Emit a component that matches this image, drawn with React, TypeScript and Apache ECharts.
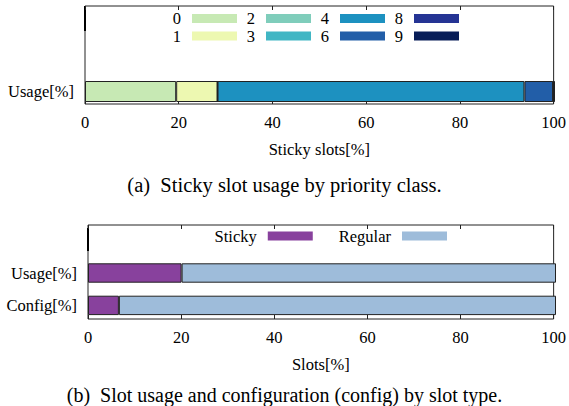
import React, { useEffect, useRef } from "react";
import * as echarts from "echarts";

// Chart (a): sticky slot usage by priority class
const priorityClasses = ["0", "1", "2", "3", "4", "6", "8", "9"];
const priorityUsage = [19.4, 8.8, 0, 0, 65.3, 6.1, 0, 0.4];
const priorityColors = ["#c7e9b4", "#edf8b1", "#7fcdbb", "#41b6c4", "#1d91c0", "#225ea8", "#253494", "#081d58"];
const categoriesA = ["Usage[%]"];

// Chart (b): slot usage and configuration by slot type
const slotTypes = ["Sticky", "Regular"];
const categoriesB = ["Config[%]", "Usage[%]"];
const stickyValues = [6.6, 20];
const regularValues = [93.4, 80];
const slotColors = ["#88419d", "#9ebcda"];

const xTicks = [0, 20, 40, 60, 80, 100];

const FONT = "'Liberation Serif', 'Times New Roman', serif";
const FS = 16.5;

export default function App() {
  const ref = useRef<HTMLDivElement>(null);
  useEffect(() => {
    if (!ref.current) return;
    const chart = echarts.init(ref.current, null, { renderer: "svg" });

    const frameGrid = (left: number, top: number, width: number, height: number) => ({
      left, top, width, height, show: true, borderColor: "#222", borderWidth: 1, backgroundColor: "transparent",
    });
    const dataGrid = (left: number, top: number, width: number, height: number) => ({
      left, top, width, height, show: false,
    });

    const tickAxis = (gridIndex: number, position: string, name: string, showLabels: boolean) => ({
      type: "value",
      gridIndex,
      position,
      min: xTicks[0],
      max: xTicks[xTicks.length - 1],
      interval: xTicks[1] - xTicks[0],
      axisLine: { show: false },
      axisTick: { show: true, inside: true, length: 4, lineStyle: { color: "#222", width: 1 } },
      splitLine: { show: false },
      axisLabel: { show: showLabels, fontFamily: FONT, fontSize: FS, color: "#000", margin: 10 },
      name,
      nameLocation: "middle",
      nameGap: 37,
      nameTextStyle: { fontFamily: FONT, fontSize: FS, color: "#000" },
    });
    const hiddenValueX = (gridIndex: number) => ({
      type: "value", gridIndex, min: 0, max: 100, show: false,
    });

    const legendA = [
      ["0", "1"],
      ["2", "3"],
      ["4", "6"],
      ["8", "9"],
    ];
    const legendRights = [332, 258, 184, 110];

    const legendCommon = {
      orient: "vertical",
      align: "right",
      icon: "rect",
      itemWidth: 45,
      itemHeight: 9,
      itemGap: 0.5,
      padding: 0,
      top: 10,
      selectedMode: false,
      itemStyle: { borderWidth: 0 },
      textStyle: { fontFamily: FONT, fontSize: FS, color: "#000", padding: [0, 6, 0, 0] },
    };

    const seriesA = priorityClasses.map((c, i) => ({
      name: c,
      type: "bar",
      stack: "a",
      xAxisIndex: 2,
      yAxisIndex: 1,
      barWidth: "100%",
      data: [priorityUsage[i]],
      itemStyle: { color: priorityColors[i], borderColor: "#222", borderWidth: 1 },
    }));

    const seriesB = [
      {
        name: slotTypes[0], type: "bar", stack: "b", xAxisIndex: 5, yAxisIndex: 3, barWidth: 19.4,
        data: stickyValues, itemStyle: { color: slotColors[0], borderColor: "#222", borderWidth: 1 },
      },
      {
        name: slotTypes[1], type: "bar", stack: "b", xAxisIndex: 5, yAxisIndex: 3, barWidth: 19.4,
        data: regularValues, itemStyle: { color: slotColors[1], borderColor: "#222", borderWidth: 1 },
      },
    ];

    chart.setOption({
      animation: false,
      backgroundColor: "#fff",
      textStyle: { fontFamily: FONT },
      title: [
        {
          text: "(a)\u00a0\u00a0Sticky slot usage by priority class.",
          left: "center", top: 174.75, padding: 0,
          textStyle: { fontFamily: FONT, fontSize: 20.5, fontWeight: "normal", color: "#000" },
        },
        {
          text: "(b)\u00a0\u00a0Slot usage and configuration (config) by slot type.",
          left: "center", top: 385, padding: 0,
          textStyle: { fontFamily: FONT, fontSize: 20, fontWeight: "normal", color: "#000" },
        },
      ],
      legend: [
        ...legendA.map((d, i) => ({ ...legendCommon, data: d, right: legendRights[i] })),
        {
          ...legendCommon,
          orient: "horizontal",
          itemGap: 26,
          top: 227.5,
          right: 122,
          data: slotTypes,
        },
      ],
      grid: [
        frameGrid(85, 6, 470, 98),
        dataGrid(85, 81, 470, 21),
        frameGrid(88, 225, 468, 94),
        dataGrid(88, 256.8, 468, 64.8),
      ],
      xAxis: [
        tickAxis(0, "bottom", "Sticky slots[%]", true),
        tickAxis(0, "top", "", false),
        hiddenValueX(1),
        tickAxis(2, "bottom", "Slots[%]", true),
        tickAxis(2, "top", "", false),
        hiddenValueX(3),
      ],
      yAxis: [
        { type: "value", gridIndex: 0, show: false, min: 0, max: 1 },
        {
          type: "category", gridIndex: 1, data: categoriesA,
          axisLine: { show: false }, axisTick: { show: false },
          axisLabel: { fontFamily: FONT, fontSize: FS, color: "#000", margin: 11 },
        },
        { type: "value", gridIndex: 2, show: false, min: 0, max: 1 },
        {
          type: "category", gridIndex: 3, data: categoriesB,
          axisLine: { show: false }, axisTick: { show: false },
          axisLabel: { fontFamily: FONT, fontSize: FS, color: "#000", margin: 11 },
        },
      ],
      graphic: [
        { type: "rect", shape: { x: 84, y: 6, width: 2, height: 25 }, style: { fill: "#000" }, silent: true },
        { type: "rect", shape: { x: 87, y: 228, width: 2, height: 23 }, style: { fill: "#000" }, silent: true },
      ],
      series: [...seriesA, ...seriesB],
    });

    return () => chart.dispose();
  }, []);

  return (
    <div
      ref={ref}
      style={{ position: "absolute", left: 0, top: 0, width: 569, height: 406, background: "#fff" }}
    />
  );
}
